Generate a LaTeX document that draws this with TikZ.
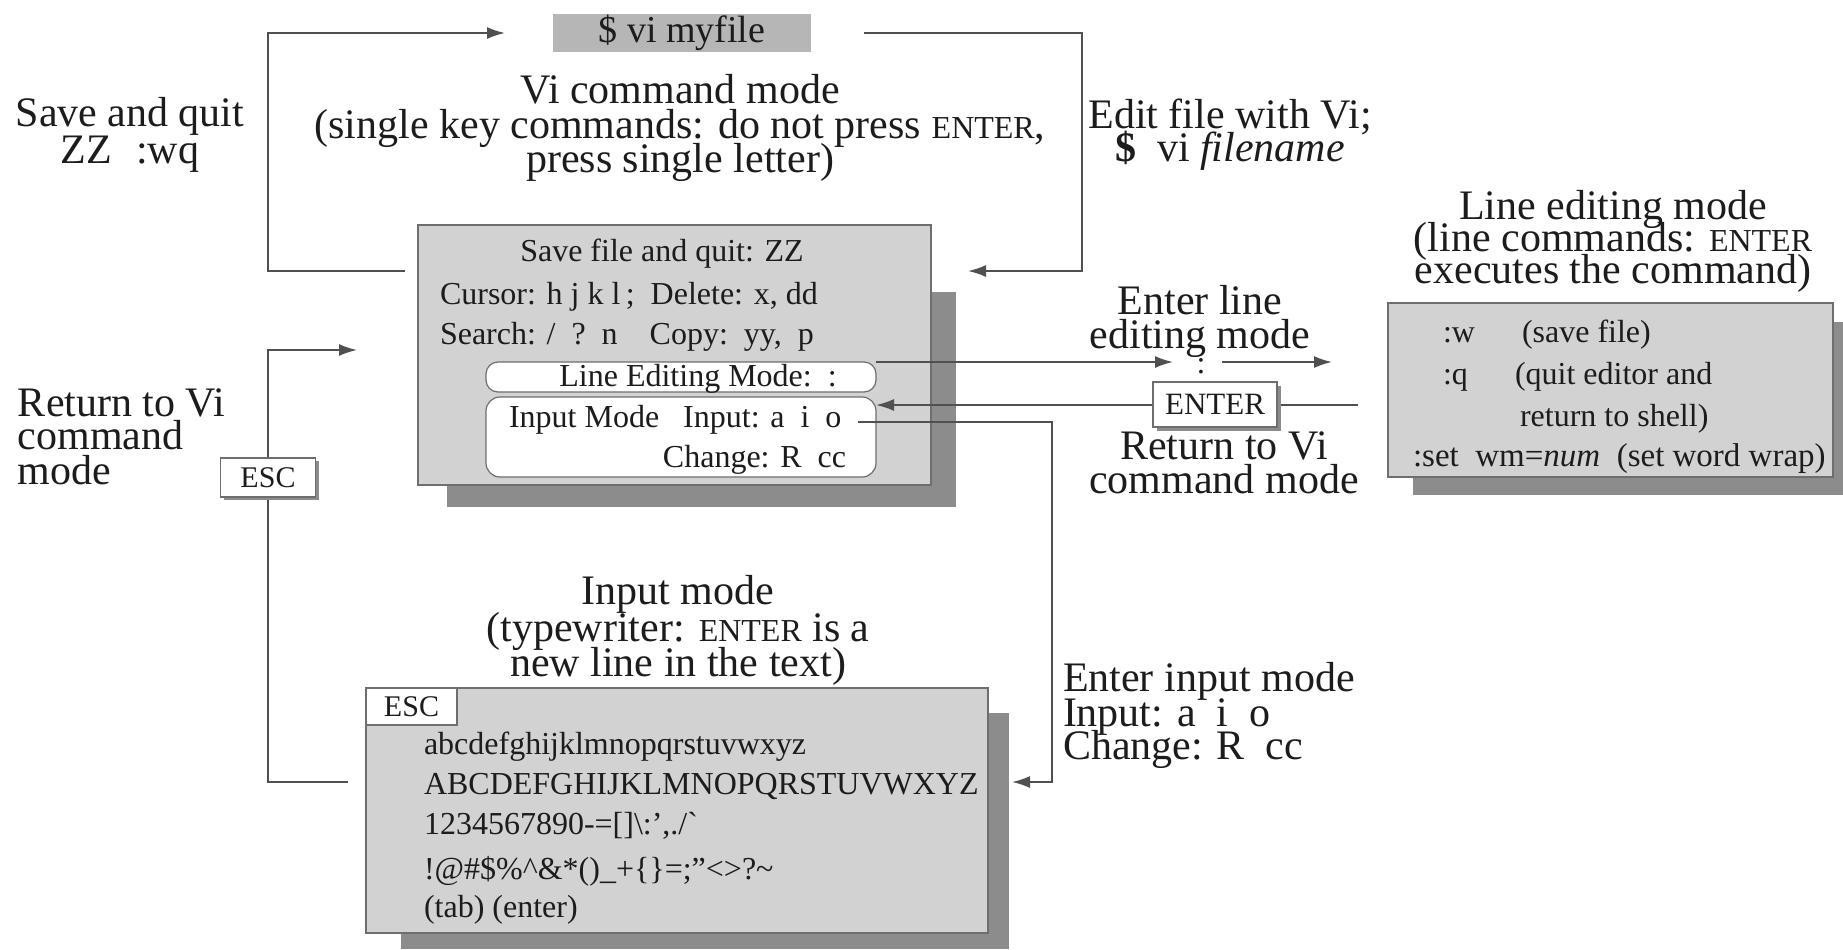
\documentclass[tikz,border=0pt]{standalone}
\usepackage{fontspec}
\setmainfont{Liberation Serif}
\usetikzlibrary{arrows.meta,calc}
\definecolor{boxfill}{HTML}{D2D2D2}
\definecolor{vifill}{HTML}{B6B6B6}
\definecolor{shadec}{HTML}{8C8C8C}
\definecolor{linec}{HTML}{505050}
\definecolor{edgec}{HTML}{6E6E6E}
\definecolor{txt}{HTML}{1C1C1C}
\begin{document}
\begin{tikzpicture}[x=0.5pt,y=-0.5pt,
  every node/.style={inner sep=0pt, outer sep=0pt, text=txt},
  lbl/.style={font=\fontsize{21}{17}\selectfont, anchor=base},
  lblw/.style={lbl, anchor=base west},
  bt/.style={font=\fontsize{16}{16}\selectfont, anchor=base},
  btw/.style={bt, anchor=base west},
  gbox/.style={draw=edgec, line width=0.6pt, fill=boxfill},
  wbox/.style={draw=edgec, line width=0.6pt, fill=white},
  conn/.style={draw=linec, line width=0.9pt},
  arr/.style={conn, -{Latex[length=9pt,width=6pt]}},
]
\useasboundingbox (0,0) rectangle (1843,949);

% shadows
\fill[shadec] (447,292) rectangle (956,507);
\fill[shadec] (1413,322) rectangle (1843,495);
\fill[shadec] (401,713) rectangle (1009,949);

% main boxes
\node[gbox, draw=none, fill=vifill, minimum width=129pt, minimum height=19pt,
      font=\fontsize{19}{19}\selectfont] (vi) at (682,33) {\$ vi myfile};
\node[gbox, minimum width=256.5pt, minimum height=130pt] (main) at (674.5,355) {};
\node[wbox, rounded corners=6pt, minimum width=195pt, minimum height=15pt] (ib1) at (681,377) {};
\node[wbox, rounded corners=7pt, minimum width=195pt, minimum height=40pt] (ib2) at (681,437) {};
\node[gbox, minimum width=222.5pt, minimum height=87pt] (rbox) at (1610.5,390) {};
\node[gbox, minimum width=311pt, minimum height=122.5pt] (inp) at (677,810.5) {};
\node[wbox, minimum width=45.5pt, minimum height=18.5pt, font=\fontsize{15}{15}\selectfont]
      (esctab) at (411.5,706.5) {ESC};

% texts in main box
\node[bt] (s1) at (662,261) {Save file and quit: ZZ};
\node[btw] (s2) at (440,304) {Cursor: h j k l\,;\ \ Delete: x, dd};
\node[btw] (s3) at (440,344) {Search: /\ \ ?\ \ n\hspace{16pt}Copy:\ \ yy,\ \ p};
\node[bt] (ib1t) at (698,386) {Line Editing Mode:\ \ :};
\node[btw] (ib2a) at (509,427) {Input Mode\ \ \ Input: a\ \ i\ \ o};
\node[bt, anchor=base east] (ib2b) at (846,467) {Change: R\ \ cc};

% texts in right box
\node[btw] (r1) at (1443,342) {:w};
\node[btw] (r1b) at (1522,342) {(save file)};
\node[btw] (r2) at (1443,384) {:q};
\node[btw] (r2b) at (1515,384) {(quit editor and};
\node[btw] (r3) at (1520,426) {return to shell)};
\node[btw, font=\fontsize{16.5}{16}\selectfont] (r4) at (1413,466) {:set\ \ wm=\textit{num}\ \ (set word wrap)};

% texts in input box
\node[btw] (i1) at (424,754) {abcdefghijklmnopqrstuvwxyz};
\node[btw] (i2) at (424,794) {ABCDEFGHIJKLMNOPQRSTUVWXYZ};
\node[btw] (i3) at (424,834) {1234567890-=[]\textbackslash:',./\textasciigrave};
\node[btw] (i4) at (424,879) {!@\#\$\%\^{}\&*()\_+\{\}=;"<>?\textasciitilde};
\node[btw] (i5) at (424,917) {(tab) (enter)};

% labels
\node[lbl] (sq1) at (130,126) {Save and quit};
\node[lbl] (sq2) at (130,163) {ZZ\hspace{12pt}:wq};
\node[lbl] (vc1) at (680,103) {Vi command mode};
\node[lbl] (vc2) at (680,138) {(single key commands: do not press {\fontsize{16}{16}\selectfont ENTER},};
\node[lbl] (vc3) at (680,172) {press single letter)};
\node[lbl] (ef1) at (1230,128) {Edit file with Vi;};
\node[lbl] (ef2) at (1230,161) {\textbf{\$}\ \ vi \textit{filename}};
\node[lbl] (le1) at (1613,219) {Line editing mode};
\node[lbl] (le2) at (1613,251) {(line commands: {\fontsize{16}{16}\selectfont ENTER}};
\node[lbl] (le3) at (1613,283) {executes the command)};
\node[lbl] (el1) at (1200,314) {Enter line};
\node[lbl] (el2) at (1200,348) {editing mode};
\node[bt] (colon) at (1201,373) {:};
\node[lbl] (rv1) at (1224,459) {Return to Vi};
\node[lbl] (rv2) at (1224,493) {command mode};
\node[lblw] (ei1) at (1063,691) {Enter input mode};
\node[lblw] (ei2) at (1063,726) {Input: a\ \ i\ \ o};
\node[lblw] (ei3) at (1063,759) {Change: R\ \ cc};
\node[lblw] (lr1) at (18,416) {Return to Vi};
\node[lblw] (lr2) at (18,449) {command};
\node[lblw] (lr3) at (18,484) {mode};
\node[lbl] (im1) at (678,604) {Input mode};
\node[lbl] (im2) at (678,641) {(typewriter: {\fontsize{16}{16}\selectfont ENTER} is a};
\node[lbl] (im3) at (678,676) {new line in the text)};

% connector coordinates
\coordinate (topL) at (268,33);
\coordinate (topR) at (1082,33);
\coordinate (leTip) at (1173,362);
\coordinate (le2s) at (1222,362);
\coordinate (le2e) at (1332,362);
\coordinate (entR) at (1358,405);
\coordinate (inCorner) at (1052,782);
\coordinate (escCorner) at (268,350);

% connectors
\draw[arr] ($(main.north west)+(-13,46)$) -| (topL) -- ($(vi.west)+(-48,0)$);
\draw[arr] ($(vi.east)+(53,0)$) -- (topR) |- ($(main.north east)+(37,46)$);
\draw[arr] (ib1.north east) -- (leTip);
\draw[arr] (le2s) -- (le2e);
\draw[arr] (entR) -- (ib2.east |- entR);
\draw[arr] ($(ib2.north east)+(-18,25)$) -| (inCorner) -- ($(inp.north east)+(24,94)$);
\draw[arr] ($(inp.north west)+(-18,94)$) -| (escCorner) -- ($(main.north west)+(-61,125)$);

% key boxes on the lines
\fill[shadec] (1157,386) rectangle (1281,431);
\node[wbox, minimum width=62pt, minimum height=22.5pt, font=\fontsize{15.5}{15.5}\selectfont]
      (enter) at (1215,404.5) {ENTER};
\fill[shadec] (224,461) rectangle (319,500);
\node[wbox, minimum width=47.5pt, minimum height=19.5pt, font=\fontsize{15}{15}\selectfont]
      (escL) at (268,477.5) {ESC};
\end{tikzpicture}
\end{document}
